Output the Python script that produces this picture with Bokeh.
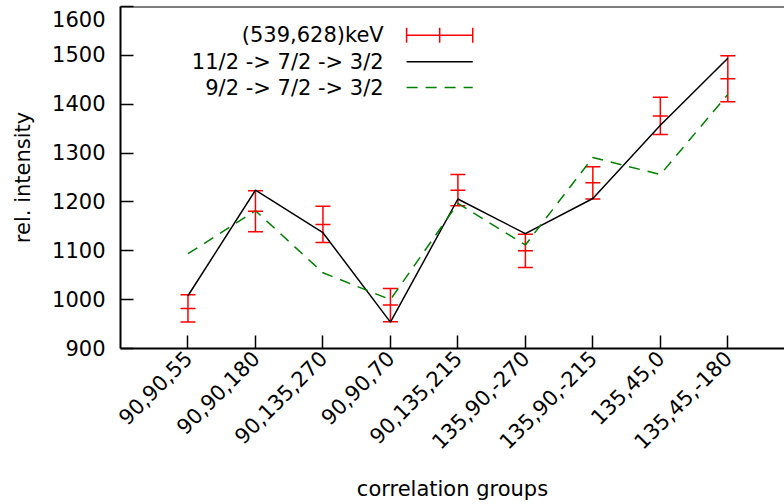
import numpy as np
from bokeh.plotting import figure
from bokeh.models import (FixedTicker, Range1d, Span, ColumnDataSource, Whisker)
from bokeh.core.properties import value
from bokeh.embed import file_html
from bokeh.resources import INLINE

# ---------------- data ----------------
categories = ["90,90,55", "90,90,180", "90,135,270", "90,90,70", "90,135,215",
              "135,90,-270", "135,90,-215", "135,45,0", "135,45,-180"]
measured = [982, 1181, 1154, 989, 1224, 1100, 1239, 1376, 1452]
errors = [28, 42, 37, 34, 32, 34, 33, 38, 47]
fit_11_2 = [1008, 1224, 1137, 954, 1206, 1135, 1207, 1357, 1494]
fit_9_2 = [1094, 1182, 1055, 1000, 1197, 1112, 1291, 1256, 1420]
y_ticks = [900, 1000, 1100, 1200, 1300, 1400, 1500, 1600]
legend_labels = ["(539,628)keV", "11/2 -> 7/2 -> 3/2", "9/2 -> 7/2 -> 3/2"]

FONT = "DejaVu Sans"
FS = "21px"

x = np.arange(1, len(categories) + 1)
m = np.array(measured, dtype=float)
e = np.array(errors, dtype=float)
src = ColumnDataSource(dict(x=x, y=m, lo=m - e, hi=m + e,
                            a=fit_11_2, b=fit_9_2))

p = figure(width=784, height=504, output_backend="svg", toolbar_location=None,
           x_range=Range1d(0, 9.84), y_range=Range1d(900, 1600),
           min_border_left=120, min_border_right=0, min_border_top=6,
           min_border_bottom=153)
p.background_fill_color = "white"
p.border_fill_color = "white"
p.outline_line_color = None
p.grid.visible = False

# fits
p.line("x", "a", source=src, line_color="black", line_width=1.5)
p.line("x", "b", source=src, line_color="#008000", line_width=1.5, line_dash="11 8")

# error bars
wh = Whisker(source=src, base="x", lower="lo", upper="hi",
             line_color="red", line_width=1.5)
wh.upper_head.size = 15
wh.lower_head.size = 15
wh.upper_head.line_color = "red"
wh.lower_head.line_color = "red"
wh.upper_head.line_width = 1.5
wh.lower_head.line_width = 1.5
p.add_layout(wh)
p.scatter("x", "y", source=src, marker="dash", size=15, line_color="red",
          line_width=1.5)

# axes
xa = p.xaxis[0]
xa.ticker = FixedTicker(ticks=list(x))
xa.major_label_overrides = {int(i): c for i, c in zip(x, categories)}
xa.major_label_orientation = np.pi / 4
xa.major_tick_in = 13
xa.major_tick_out = 0
xa.minor_tick_in = 0
xa.minor_tick_out = 0
xa.axis_line_width = 2
xa.major_tick_line_width = 1.5
xa.major_label_text_font = FONT
xa.major_label_text_font_size = FS
xa.major_label_text_color = "black"
xa.major_label_standoff = 6
xa.axis_label = "correlation groups"
xa.axis_label_text_font = FONT
xa.axis_label_text_font_size = FS
xa.axis_label_text_color = "black"
xa.axis_label_text_font_style = "normal"
xa.axis_label_standoff = 18

ya = p.yaxis[0]
ya.ticker = FixedTicker(ticks=y_ticks)
# the top label sits a little below its tick in the reference
ya.major_label_overrides = {y_ticks[-1]: "\n" + str(y_ticks[-1])}
ya.major_label_text_line_height = 0.3
ya.major_tick_in = 13
ya.major_tick_out = 0
ya.minor_tick_in = 0
ya.minor_tick_out = 0
ya.axis_line_width = 2
ya.major_tick_line_width = 1.5
ya.major_label_text_font = FONT
ya.major_label_text_font_size = FS
ya.major_label_text_color = "black"
ya.major_label_standoff = 15
ya.axis_label = "rel. intensity"
ya.axis_label_text_font = FONT
ya.axis_label_text_font_size = FS
ya.axis_label_text_color = "black"
ya.axis_label_text_font_style = "normal"
ya.axis_label_standoff = 14

# top border
p.add_layout(Span(location=1600, dimension="width", line_color="black", line_width=2))

# legend (text on left, sample on right)
leg_x_text = 3.9
leg_x0, leg_x1 = 4.24, 5.22
leg_xm = (leg_x0 + leg_x1) / 2
leg_rows = [1541, 1487, 1434]
for lab, yy in zip(legend_labels, leg_rows):
    p.text(x=[leg_x_text], y=[yy], text=[lab], text_align="right",
           text_baseline="middle", text_font=value(FONT), text_font_size=FS,
           text_color="black")
p.line([leg_x0, leg_x1], [leg_rows[0]] * 2, line_color="red", line_width=1.5)
p.scatter([leg_x0, leg_xm, leg_x1], [leg_rows[0]] * 3, marker="dash", angle=np.pi / 2,
          size=15, line_color="red", line_width=1.5)
p.line([leg_x0, leg_x1], [leg_rows[1]] * 2, line_color="black", line_width=1.5)
p.line([leg_x0, leg_x1], [leg_rows[2]] * 2, line_color="#008000", line_width=1.5,
       line_dash="11 8")

open("out.html", "w").write(file_html(p, INLINE))
